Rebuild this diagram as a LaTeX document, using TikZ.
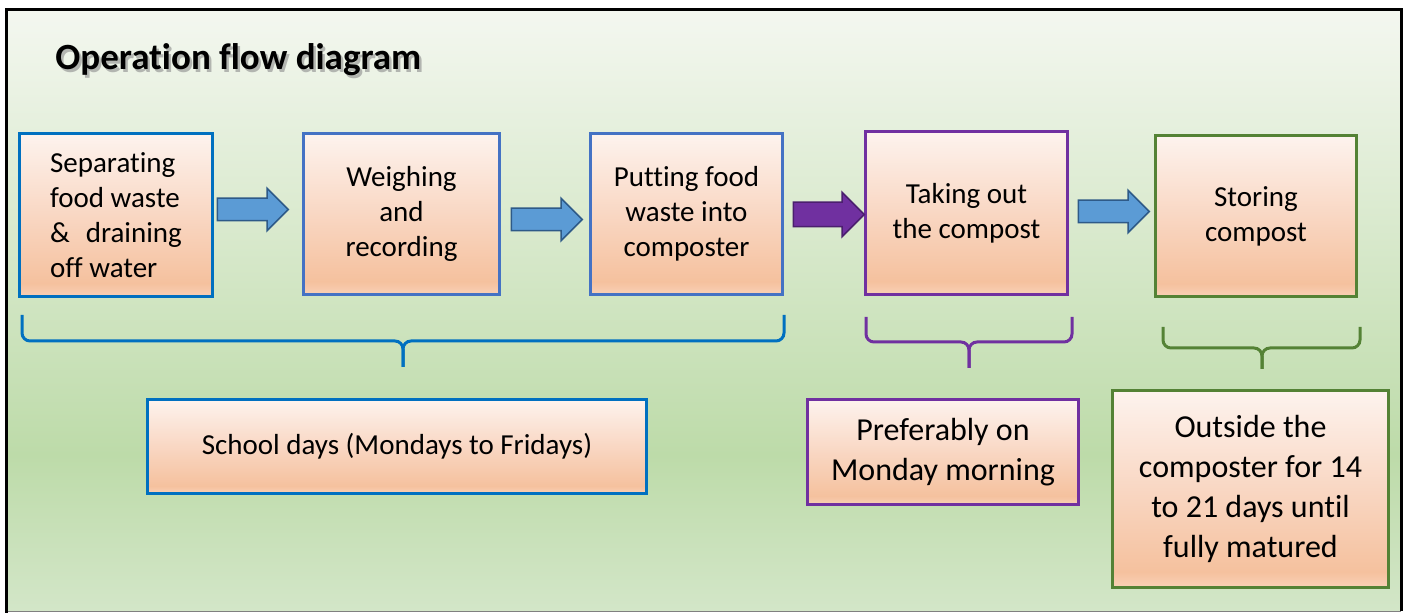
\documentclass[tikz,border=0pt]{standalone}
\usepackage{fontspec}
\setmainfont[Ligatures=NoCommon]{Carlito}
\usetikzlibrary{shapes.arrows}

\definecolor{boxblue}{HTML}{0070C0}
\definecolor{boxsteel}{HTML}{4472C4}
\definecolor{boxpurple}{HTML}{7030A0}
\definecolor{boxgreen}{HTML}{548235}
\definecolor{arrowblue}{HTML}{5B9BD5}
\definecolor{arrowedge}{HTML}{2E5A88}
\definecolor{purpleedge}{HTML}{4B1F6E}
\definecolor{peachtop}{HTML}{FDF3EE}
\definecolor{peachmid}{HTML}{F9D7C3}
\definecolor{peachdeep}{HTML}{F5C19E}
\definecolor{peachbot}{HTML}{F9D0B6}
\definecolor{bgtop}{HTML}{F4F7F0}
\definecolor{bgmid}{HTML}{BDDBA9}
\definecolor{bgbot}{HTML}{D3E6C8}

\pgfdeclareverticalshading{peachfade}{100bp}{color(0bp)=(peachbot); color(25bp)=(peachbot); color(29bp)=(peachdeep); color(50bp)=(peachmid); color(75bp)=(peachtop); color(100bp)=(peachtop)}
\pgfdeclareverticalshading{meadow}{100bp}{color(0bp)=(bgbot); color(25bp)=(bgbot); color(38bp)=(bgmid); color(75bp)=(bgtop); color(100bp)=(bgtop)}

\tikzset{
    stepbox/.style={draw, line width=1.5pt, shade, shading=peachfade, align=center, inner sep=2pt, font=\fontsize{14.5}{17.5}\selectfont},
    notebox/.style={stepbox, font=\fontsize{16}{20}\selectfont},
    boxdim/.style 2 args={minimum width=#1*0.5pt, minimum height=#2*0.5pt},
    flowarrow/.style={single arrow, anchor=tail, draw=arrowedge, fill=arrowblue, line width=0.75pt, single arrow head extend=5pt, single arrow tip angle=90, minimum height=35.5pt, inner xsep=0pt, inner ysep=5.25pt},
    bracket/.style={line width=1.5pt, rounded corners=4pt},
    titletext/.style={font=\fontsize{18.5}{22}\selectfont\bfseries, inner sep=0pt}
}

\begin{document}
\begin{tikzpicture}[x=0.5pt, y=-0.5pt]
    \useasboundingbox (0,0) rectangle (1404,613);
    % background panel and frame
    \fill[white] (0,0) rectangle (1404,613);
    \shade[shading=meadow] (6.5,9.5) rectangle (1401,611);
    \draw[gray, line width=0.5pt] (6.5,611.5) -- (1401,611.5);
    \draw[line width=1.5pt] (6.5,613) -- (6.5,9.5) -- (1401,9.5) -- (1401,611.5);

    % title with its shadow
    \node[titletext, text=black!45, opacity=0.6, anchor=base west] (titleshade) at (57.5,72.5) {Operation flow diagram};
    \node[titletext, anchor=base west] (title) at (55,70) {Operation flow diagram};

    % process steps
    \node[stepbox, draw=boxblue, boxdim={193}{163}, align=left] (sep) at (116,215) {Separating\\food waste\\\&\hspace{0.55em}draining\\off water};
    \node[stepbox, draw=boxsteel, boxdim={196}{161}] (weigh) at (401.5,214) {Weighing\\and\\recording};
    \node[stepbox, draw=boxsteel, boxdim={192}{161}] (put) at (686.5,214) {Putting food\\waste into\\composter};
    \node[stepbox, draw=boxpurple, boxdim={202}{163}] (take) at (966.5,213) {Taking out\\the compost};
    \node[stepbox, draw=boxgreen, boxdim={201}{161}] (store) at (1256,216) {Storing\\compost};

    % block arrows between the steps
    \node[flowarrow] (a1) at (216.5,209.5) {};
    \node[flowarrow] (a2) at (510.5,219.5) {};
    \node[flowarrow, fill=boxpurple, draw=purpleedge, inner ysep=5.75pt] (a3) at (792.5,214.5) {};
    \node[flowarrow] (a4) at (1077.5,211.5) {};

    % braces
    \draw[bracket, boxblue] (22,315) -- (22,341) -- (403,341) -- (403,367);
    \draw[bracket, boxblue] (784,315) -- (784,341) -- (403,341) -- (403,367);
    \draw[bracket, boxpurple] (866,317) -- (866,342) -- (969,342) -- (969,368);
    \draw[bracket, boxpurple] (1072,317) -- (1072,342) -- (969,342) -- (969,368);
    \draw[bracket, boxgreen] (1163,327) -- (1163,348) -- (1262,348) -- (1262,369);
    \draw[bracket, boxgreen] (1360,327) -- (1360,348) -- (1262,348) -- (1262,369);

    % when each step is done
    \node[stepbox, draw=boxblue, boxdim={499}{94}] (school) at (397,446.5) {School days (Mondays to Fridays)};
    \node[notebox, draw=boxpurple, boxdim={271}{105}] (monday) at (943,452) {Preferably on\\Monday morning};
    \node[notebox, draw=boxgreen, boxdim={276}{197}] (mature) at (1250.5,489) {Outside the\\composter for 14\\to 21 days until\\fully matured};
\end{tikzpicture}
\end{document}
